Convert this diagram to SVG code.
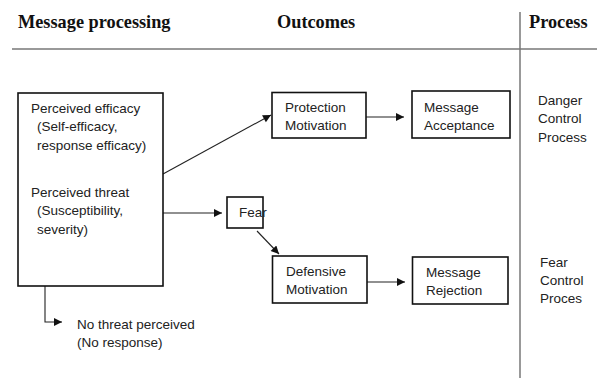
<svg xmlns="http://www.w3.org/2000/svg" width="597" height="380" viewBox="0 0 597 380">
<style>
.hd{font-family:"Liberation Serif","Times New Roman",serif;font-weight:bold;font-size:18.3px;fill:#111}
.t{font-family:"Liberation Sans",Arial,sans-serif;font-size:13.5px;fill:#222}
.box{fill:#fff;stroke:#111;stroke-width:1.6}
.ln{stroke:#222;stroke-width:1.1;fill:none}
.rule{stroke:#777;stroke-width:1.5}
</style>
<defs>
<marker id="ah" viewBox="0 0 10 10" refX="10" refY="5" markerWidth="10" markerHeight="8" markerUnits="userSpaceOnUse" orient="auto">
<path d="M0,0 L10,5 L0,10 z" fill="#111"/>
</marker>
</defs>
<g id="header">
<text class="hd" x="18" y="28">Message processing</text>
<text class="hd" x="277" y="28">Outcomes</text>
<text class="hd" x="529" y="28">Process</text>
<line class="rule" x1="12" y1="49" x2="597" y2="49"/>
<line class="rule" x1="520" y1="12" x2="520" y2="378"/>
</g>
<g id="connectors">
<line class="ln" x1="163" y1="174" x2="271" y2="115" marker-end="url(#ah)"/>
<line class="ln" x1="366" y1="117" x2="404" y2="117" marker-end="url(#ah)"/>
<line class="ln" x1="163" y1="213" x2="222" y2="213" marker-end="url(#ah)"/>
<line class="ln" x1="257" y1="231" x2="279" y2="254" marker-end="url(#ah)"/>
<line class="ln" x1="367" y1="282" x2="405" y2="282" marker-end="url(#ah)"/>
<polyline class="ln" points="45,286 45,322 62,322" marker-end="url(#ah)"/>
</g>
<g id="message-processing">
<rect class="box" x="18" y="93" width="145" height="193"/>
<text class="t" x="31" y="113">Perceived efficacy</text>
<text class="t" x="37" y="131">(Self-efficacy,</text>
<text class="t" x="37" y="150">response efficacy)</text>
<text class="t" x="31" y="197">Perceived threat</text>
<text class="t" x="37" y="215">(Susceptibility,</text>
<text class="t" x="37" y="234">severity)</text>
</g>
<g id="protection-motivation">
<rect class="box" x="272" y="92.5" width="94" height="45.5"/>
<text class="t" x="285" y="112">Protection</text>
<text class="t" x="285" y="130">Motivation</text>
</g>
<g id="message-acceptance">
<rect class="box" x="412" y="91" width="98" height="47"/>
<text class="t" x="424" y="112">Message</text>
<text class="t" x="424" y="130">Acceptance</text>
</g>
<g id="fear">
<rect class="box" x="227" y="197" width="36" height="31"/>
<text class="t" x="239" y="217">Fear</text>
</g>
<g id="defensive-motivation">
<rect class="box" x="272.5" y="256" width="94.5" height="47"/>
<text class="t" x="286" y="276">Defensive</text>
<text class="t" x="286" y="294">Motivation</text>
</g>
<g id="message-rejection">
<rect class="box" x="412.5" y="257" width="95.5" height="47"/>
<text class="t" x="426" y="277">Message</text>
<text class="t" x="426" y="295">Rejection</text>
</g>
<g id="no-threat">
<text class="t" x="77" y="329">No threat perceived</text>
<text class="t" x="77" y="347">(No response)</text>
</g>
<g id="danger-control">
<text class="t" x="538" y="105">Danger</text>
<text class="t" x="538" y="123">Control</text>
<text class="t" x="538" y="142">Process</text>
</g>
<g id="fear-control">
<text class="t" x="540" y="267">Fear</text>
<text class="t" x="540" y="285">Control</text>
<text class="t" x="540" y="303">Proces</text>
</g>
</svg>
